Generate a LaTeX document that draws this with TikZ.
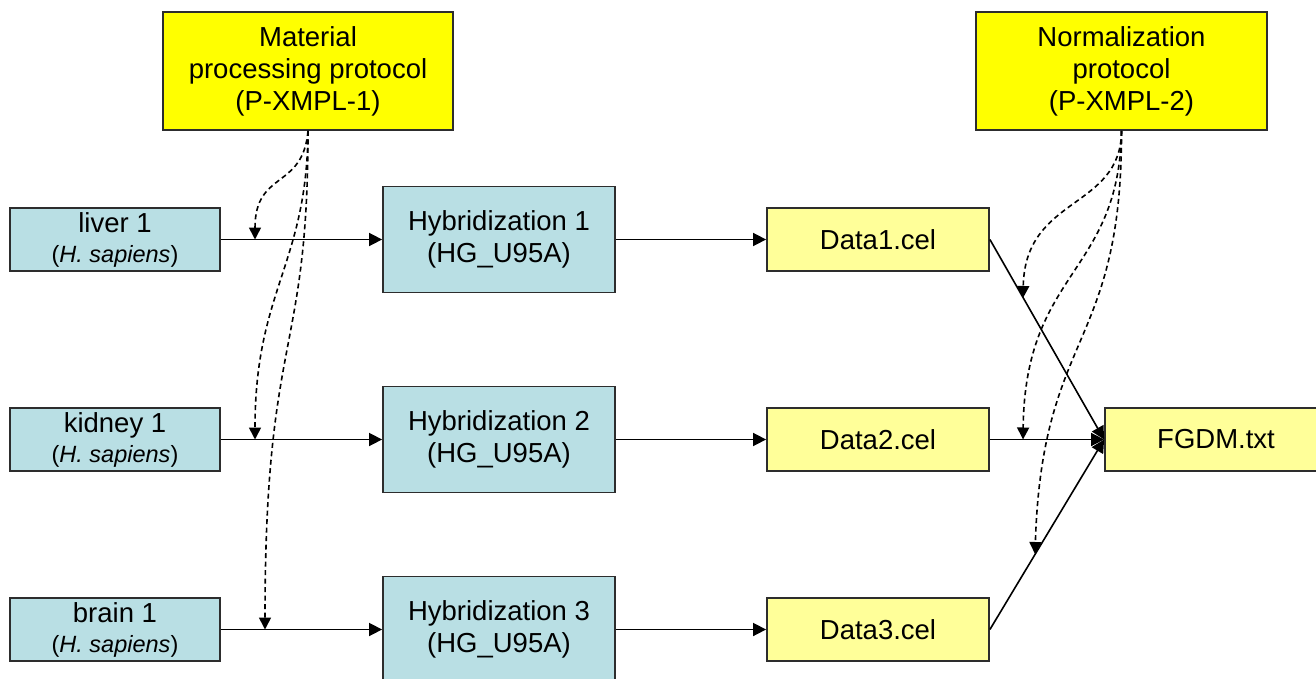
\documentclass[tikz,border=0pt]{standalone}
\usepackage{fontspec}
\setmainfont{Liberation Sans}
\usetikzlibrary{arrows.meta}
\definecolor{lblue}{RGB}{185,223,228}
\definecolor{pyellow}{RGB}{255,255,0}
\definecolor{lyellow}{RGB}{255,255,153}
\definecolor{bord}{RGB}{45,45,45}
\newcommand{\hsap}{{\fontsize{23.5}{27}\selectfont(\textit{H. sapiens})}}
\tikzset{
  box/.style={draw=bord, line width=1.8pt, inner sep=0pt, align=center,
    font=\fontsize{27.5}{32}\selectfont},
  protbox/.style={box, fill=pyellow, minimum width=290pt, minimum height=118pt},
  srcbox/.style={box, fill=lblue, minimum width=210pt, minimum height=63pt},
  hybbox/.style={box, fill=lblue, minimum width=232pt, minimum height=106pt},
  databox/.style={box, fill=lyellow, minimum width=222pt, minimum height=63pt},
  arr/.style={line width=1.6pt, -{Triangle[length=13pt,width=13pt]}},
  darr/.style={line width=1.6pt, dash pattern=on 5pt off 3.5pt, -{Triangle[length=12pt,width=12pt]}}
}
\begin{document}
\begin{tikzpicture}[x=1pt,y=-1pt]
\useasboundingbox (0,0) rectangle (1316,679);
\clip (0,0) rectangle (1316,679);
\fill[white] (0,0) rectangle (1316,679);

\node[protbox] (p1) at (308,71) {Material\\processing protocol\\(P-XMPL-1)};
\node[protbox, minimum width=291pt] (p2) at (1121.5,71) {Normalization\\protocol\\(P-XMPL-2)};

\node[srcbox] (liver) at (115,239.5) {liver 1\\[-2pt]\hsap};
\node[srcbox] (kidney) at (115,439.5) {kidney 1\\[-2pt]\hsap};
\node[srcbox] (brain) at (115,629.5) {brain 1\\[-2pt]\hsap};

\node[hybbox] (h1) at (499,239.5) {Hybridization 1\\(HG\_U95A)};
\node[hybbox] (h2) at (499,439.5) {Hybridization 2\\(HG\_U95A)};
\node[hybbox] (h3) at (499,629.5) {Hybridization 3\\(HG\_U95A)};

\node[databox] (d1) at (878,239.5) {Data1.cel};
\node[databox] (d2) at (878,439.5) {Data2.cel};
\node[databox] (d3) at (878,629.5) {Data3.cel};

\node[databox] (fg) at (1216,439.5) {FGDM.txt};

\draw[arr] (liver.east) -- (h1.west);
\draw[arr] (kidney.east) -- (h2.west);
\draw[arr] (brain.east) -- (h3.west);
\draw[arr] (h1.east) -- (d1.west);
\draw[arr] (h2.east) -- (d2.west);
\draw[arr] (h3.east) -- (d3.west);
\draw[arr] (d1.east) -- (fg.west);
\draw[arr] (d2.east) -- (fg.west);
\draw[arr] (d3.east) -- (fg.west);

\coordinate (a1) at (255,239.5);
\coordinate (a2) at (255,439.5);
\coordinate (a3) at (265,629.5);
\coordinate (b1) at (1023,298);
\coordinate (b2) at (1023,439.5);
\coordinate (b3) at (1035,554);

\draw[darr] (p1.south) .. controls (303,190) and (255,170) .. (a1);
\draw[darr] (p1.south) .. controls (307,265) and (255,290) .. (a2);
\draw[darr] (p1.south) .. controls (308,360) and (265,330) .. (a3);

\draw[darr] (p2.south) .. controls (1121,210) and (1025,195) .. (b1);
\draw[darr] (p2.south) .. controls (1119,275) and (1025,270) .. (b2);
\draw[darr] (p2.south) .. controls (1122,350) and (1042,330) .. (b3);
\end{tikzpicture}
\end{document}
